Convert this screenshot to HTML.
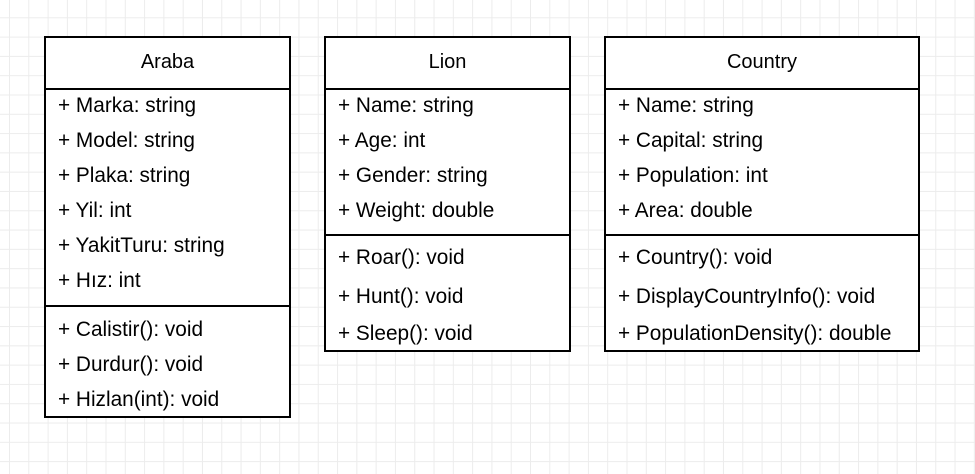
<!DOCTYPE html>
<html><head><style>
body{margin:0;width:975px;height:474px;overflow:hidden;background:#fff;
background-image:linear-gradient(#ececec 1px,transparent 1px),linear-gradient(90deg,#ececec 1px,transparent 1px);
background-size:19.3px 19.3px;background-position:9px -2px;font-family:"Liberation Sans",Arial,sans-serif;}
.box{position:absolute;border:2px solid #000;background:#fff;box-sizing:border-box}
.hd{position:absolute;left:0;right:0;top:0;height:50px;border-bottom:2px solid #000;text-align:center;line-height:48px;font-size:20px}
.dv{position:absolute;left:0;right:0;border-top:2px solid #000}
.t{position:absolute;left:12px;font-size:20.8px;line-height:20px;white-space:nowrap}
</style></head><body>
<div class="box" style="left:44px;top:36px;width:247px;height:382px">
<div class="hd">Araba</div>
<div class="t" style="top:58px">+ Marka: string</div>
<div class="t" style="top:93px">+ Model: string</div>
<div class="t" style="top:128px">+ Plaka: string</div>
<div class="t" style="top:163px">+ Yil: int</div>
<div class="t" style="top:198px">+ YakitTuru: string</div>
<div class="t" style="top:233px">+ Hız: int</div>
<div class="dv" style="top:267px"></div>
<div class="t" style="top:282px">+ Calistir(): void</div>
<div class="t" style="top:317px">+ Durdur(): void</div>
<div class="t" style="top:352px">+ Hizlan(int): void</div>
</div>
<div class="box" style="left:324px;top:36px;width:247px;height:316px">
<div class="hd">Lion</div>
<div class="t" style="top:58px">+ Name: string</div>
<div class="t" style="top:93px">+ Age: int</div>
<div class="t" style="top:128px">+ Gender: string</div>
<div class="t" style="top:163px">+ Weight: double</div>
<div class="dv" style="top:196px"></div>
<div class="t" style="top:210px">+ Roar(): void</div>
<div class="t" style="top:249px">+ Hunt(): void</div>
<div class="t" style="top:286px">+ Sleep(): void</div>
</div>
<div class="box" style="left:604px;top:36px;width:316px;height:316px">
<div class="hd">Country</div>
<div class="t" style="top:58px">+ Name: string</div>
<div class="t" style="top:93px">+ Capital: string</div>
<div class="t" style="top:128px">+ Population: int</div>
<div class="t" style="top:163px">+ Area: double</div>
<div class="dv" style="top:196px"></div>
<div class="t" style="top:210px">+ Country(): void</div>
<div class="t" style="top:249px">+ DisplayCountryInfo(): void</div>
<div class="t" style="top:286px">+ PopulationDensity(): double</div>
</div>
</body></html>
